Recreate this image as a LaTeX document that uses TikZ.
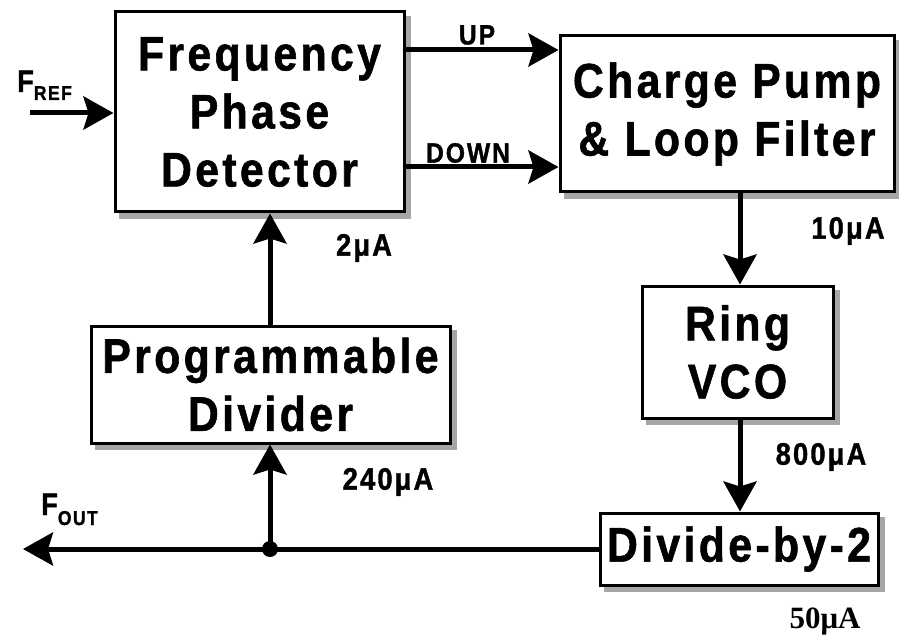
\documentclass[tikz,border=0pt]{standalone}
\usepackage{fontspec}
\setmainfont{Liberation Sans}
\newfontfamily\nfont{Liberation Sans}[FakeStretch=0.88,LetterSpace=7,FakeBold=1.2]
\newfontfamily\serfont{Liberation Serif}
\usetikzlibrary{arrows.meta}
\tikzset{
  blk/.style={draw=black, line width=3pt, fill=white, align=center,
    inner sep=0pt, font=\nfont\bfseries\fontsize{48.5}{58}\selectfont},
  shadowbox/.style={fill=black!35, draw=black!35, line width=3pt, inner sep=0pt},
  conn/.style={line width=5pt},
  arr/.style={conn, -{Stealth[length=30pt,width=33pt,inset=5pt]}},
  lbl/.style={inner sep=0pt, font=\nfont\bfseries\fontsize{31}{36}\selectfont},
  sig/.style={inner sep=0pt, font=\nfont\bfseries\fontsize{28}{32}\selectfont},
}
\begin{document}
\begin{tikzpicture}[x=1pt,y=-1pt]
\useasboundingbox (0,0) rectangle (899,636);
% shadows
\node[shadowbox, minimum width=289pt, minimum height=200pt] (fpds) at (265,117.5) {};
\node[shadowbox, minimum width=334pt, minimum height=156pt] (cps) at (732.5,119.5) {};
\node[shadowbox, minimum width=191pt, minimum height=132pt] (vcos) at (743,357.5) {};
\node[shadowbox, minimum width=359pt, minimum height=117pt] (pds) at (276,390) {};
\node[shadowbox, minimum width=278pt, minimum height=72pt] (divs) at (744.5,554.5) {};
% blocks
\node[blk, minimum width=289pt, minimum height=200pt] (fpd) at (259.5,112) {Frequency\\Phase\\Detector};
\node[blk, minimum width=334pt, minimum height=156pt] (cp) at (727,114) {Charge Pump\\\& Loop Filter};
\node[blk, minimum width=191pt, minimum height=132pt] (vco) at (737.5,352) {Ring\\VCO};
\node[blk, minimum width=359pt, minimum height=117pt] (pd) at (270.5,384.5) {Programmable\\Divider};
\node[blk, minimum width=278pt, minimum height=72pt] (div) at (739,549) {Divide-by-2};
% helper coordinates
\coordinate (fref) at (30,113);
\coordinate (upy) at (0,50);
\coordinate (dny) at (0,167);
\coordinate (colv) at (740,0);
\coordinate (fout) at (23,549);
\coordinate (jn) at (270,549);
% connectors
\draw[arr] (fref) -- (fref -| fpd.west);
\draw[arr] (upy -| fpd.east) -- (upy -| cp.west);
\draw[arr] (dny -| fpd.east) -- (dny -| cp.west);
\draw[arr] (colv |- cp.south) -- (colv |- vco.north);
\draw[arr] (colv |- vco.south) -- (colv |- div.north);
\draw[arr] (div.west) -- (fout);
\draw[arr] (jn) -- (jn |- pd.south);
\draw[arr] (jn |- pd.north) -- (jn |- fpd.south);
\fill (jn) circle (8pt);
% labels
\node[sig] (lup) at (477,35) {UP};
\node[sig] (ldown) at (468,153) {DOWN};
\node[lbl, anchor=base west] (lfref) at (17,92) {F\raisebox{-8pt}{\fontsize{20}{24}\selectfont REF}};
\node[lbl, anchor=base west] (lfout) at (41,515) {F\raisebox{-10pt}{\fontsize{20}{24}\selectfont OUT}};
\node[lbl] (l10) at (848,231) {10μA};
\node[lbl] (l2) at (364,248) {2μA};
\node[lbl] (l800) at (821,457) {800μA};
\node[lbl] (l240) at (388,482) {240μA};
\node[inner sep=0pt, anchor=base, font=\serfont\bfseries\fontsize{31}{36}\selectfont] (l50) at (825,628) {50μA};
\end{tikzpicture}
\end{document}
